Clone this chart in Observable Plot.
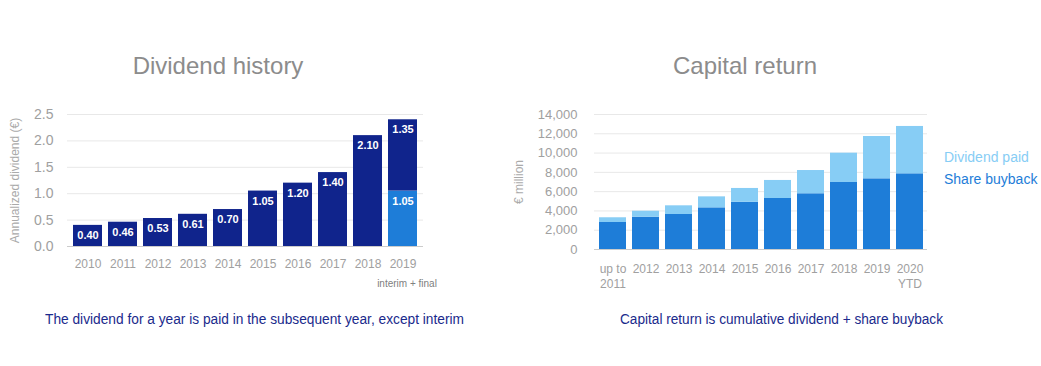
<!DOCTYPE html>
<html>
<head>
<meta charset="utf-8">
<script src="https://cdn.jsdelivr.net/npm/d3@7"></script>
<script src="https://cdn.jsdelivr.net/npm/@observablehq/plot@0.6"></script>
<style>
  html, body { margin: 0; padding: 0; background: #fff; }
  body { font-family: Arial, "Liberation Sans", sans-serif; }
  #wrap { position: relative; width: 1041px; height: 366px; overflow: hidden; }
  .abs { position: absolute; white-space: nowrap; }
  .title { font-size: 24px; color: #8c8c8c; transform: translate(-50%, -50%); }
  .caption { font-size: 14px; color: #1a2a8c; transform-origin: left center; }
  .legend { font-size: 14px; transform: translateY(-50%); }
</style>
</head>
<body>
<div id="wrap"></div>
<script>
// ---- Left chart data: Dividend history ----
const divYears = ["2010","2011","2012","2013","2014","2015","2016","2017","2018","2019"];
const divFinal = [0.40, 0.46, 0.53, 0.61, 0.70, 1.05, 1.20, 1.40, 2.10, 1.35];
const divInterim = [0, 0, 0, 0, 0, 0, 0, 0, 0, 1.05];
const divTicks = [0, 0.5, 1.0, 1.5, 2.0, 2.5];

// ---- Right chart data: Capital return ----
const capYears = ["up to\n2011","2012","2013","2014","2015","2016","2017","2018","2019","2020\nYTD"];
const capBuyback = [2800, 3350, 3630, 4320, 4900, 5290, 5780, 6950, 7330, 7850];
const capDividend = [490, 620, 900, 1140, 1430, 1870, 2410, 3040, 4390, 4910];
const capTicks = [0, 2000, 4000, 6000, 8000, 10000, 12000, 14000];

const navy = "#10248c";
const blue = "#1e7dd8";
const light = "#87cdf5";
const font = 'Arial, "Liberation Sans", sans-serif';

const wrap = document.getElementById("wrap");

function addDiv(cls, text, x, y, extra = {}) {
  const d = document.createElement("div");
  d.className = "abs " + cls;
  d.textContent = text;
  d.style.left = x + "px";
  d.style.top = y + "px";
  Object.assign(d.style, extra);
  wrap.appendChild(d);
  return d;
}

// Left chart
const divRows = [];
divYears.forEach((y, i) => divRows.push({year: y, part: "interim", value: divInterim[i]}));
divYears.forEach((y, i) => divRows.push({year: y, part: "final", value: divFinal[i]}));

const left = Plot.plot({
  width: 450,
  height: 210,
  marginLeft: 67,
  marginRight: 27,
  marginTop: 24,
  marginBottom: 54,
  style: {fontFamily: font, color: "#999", background: "transparent"},
  x: {domain: divYears, paddingInner: 0.18, paddingOuter: 0.1, label: null},
  y: {domain: [0, 2.5], label: null},
  marks: [
    Plot.gridY(divTicks, {stroke: "#e8e8e8", strokeOpacity: 1}),
    Plot.ruleY([0], {stroke: "#cccccc"}),
    Plot.barY(divRows, Plot.stackY({x: "year", y: "value", fill: d => d.part === "interim" ? blue : navy})),
    Plot.text(divRows, Plot.stackY2({x: "year", y: "value", text: d => d.value > 0 ? d.value.toFixed(2) : "", fill: "white", fontWeight: "bold", fontSize: 11, dy: 10})),
    Plot.axisY(divTicks, {tickSize: 0, tickPadding: 14, fontSize: 14, tickFormat: d3.format(".1f"), label: null, fill: "#a0a0a0"}),
    Plot.axisX({tickSize: 0, tickPadding: 13, fontSize: 12, label: null, fill: "#a0a0a0"}),
    Plot.text(["interim + final"], {x: () => "2019", y: () => 0, dy: 37, dx: 4, fontSize: 10, fill: "#808080"}),
    Plot.text(["Annualized dividend (€)"], {frameAnchor: "left", textAnchor: "middle", dx: -52, rotate: -90, fontSize: 12, fill: "#aaaaaa"})
  ]
});
left.style.position = "absolute";
left.style.left = "0px";
left.style.top = "90px";
wrap.appendChild(left);

// Right chart
const capRows = [];
capYears.forEach((y, i) => capRows.push({year: y, part: "Share buyback", value: capBuyback[i]}));
capYears.forEach((y, i) => capRows.push({year: y, part: "Dividend paid", value: capDividend[i]}));

const right = Plot.plot({
  width: 541,
  height: 210,
  marginLeft: 94,
  marginRight: 114,
  marginTop: 24,
  marginBottom: 51,
  style: {fontFamily: font, color: "#999", background: "transparent"},
  x: {domain: capYears, paddingInner: 0.19, paddingOuter: 0.095, label: null},
  y: {domain: [0, 14000], label: null},
  marks: [
    Plot.gridY(capTicks, {stroke: "#e8e8e8", strokeOpacity: 1}),
    Plot.ruleY([0], {stroke: "#cccccc"}),
    Plot.barY(capRows, Plot.stackY({x: "year", y: "value", fill: d => d.part === "Share buyback" ? blue : light})),
    Plot.axisY(capTicks, {tickSize: 0, tickPadding: 17, fontSize: 13, tickFormat: d3.format(","), label: null, fill: "#a0a0a0"}),
    Plot.axisX({tickSize: 0, tickPadding: 13, fontSize: 12, lineHeight: 1.25, label: null, fill: "#a0a0a0"}),
    Plot.text(["€ million"], {frameAnchor: "left", textAnchor: "middle", dx: -75, rotate: -90, fontSize: 12, fill: "#aaaaaa"})
  ]
});
right.style.position = "absolute";
right.style.left = "500px";
right.style.top = "90px";
wrap.appendChild(right);

// Titles
addDiv("title", "Dividend history", 218, 66);
addDiv("title", "Capital return", 745, 66);

// Legend
addDiv("legend", "Dividend paid", 944, 157, {color: light});
addDiv("legend", "Share buyback", 944, 179, {color: blue});

// Captions
const c1 = addDiv("caption", "The dividend for a year is paid in the subsequent year, except interim", 45, 311);
const c2 = addDiv("caption", "Capital return is cumulative dividend + share buyback", 620, 311);
// squeeze to the reference widths
[[c1, 419], [c2, 323]].forEach(([el, w]) => {
  const cw = el.getBoundingClientRect().width;
  el.style.transform = `scaleX(${w / cw})`;
});
</script>
</body>
</html>
